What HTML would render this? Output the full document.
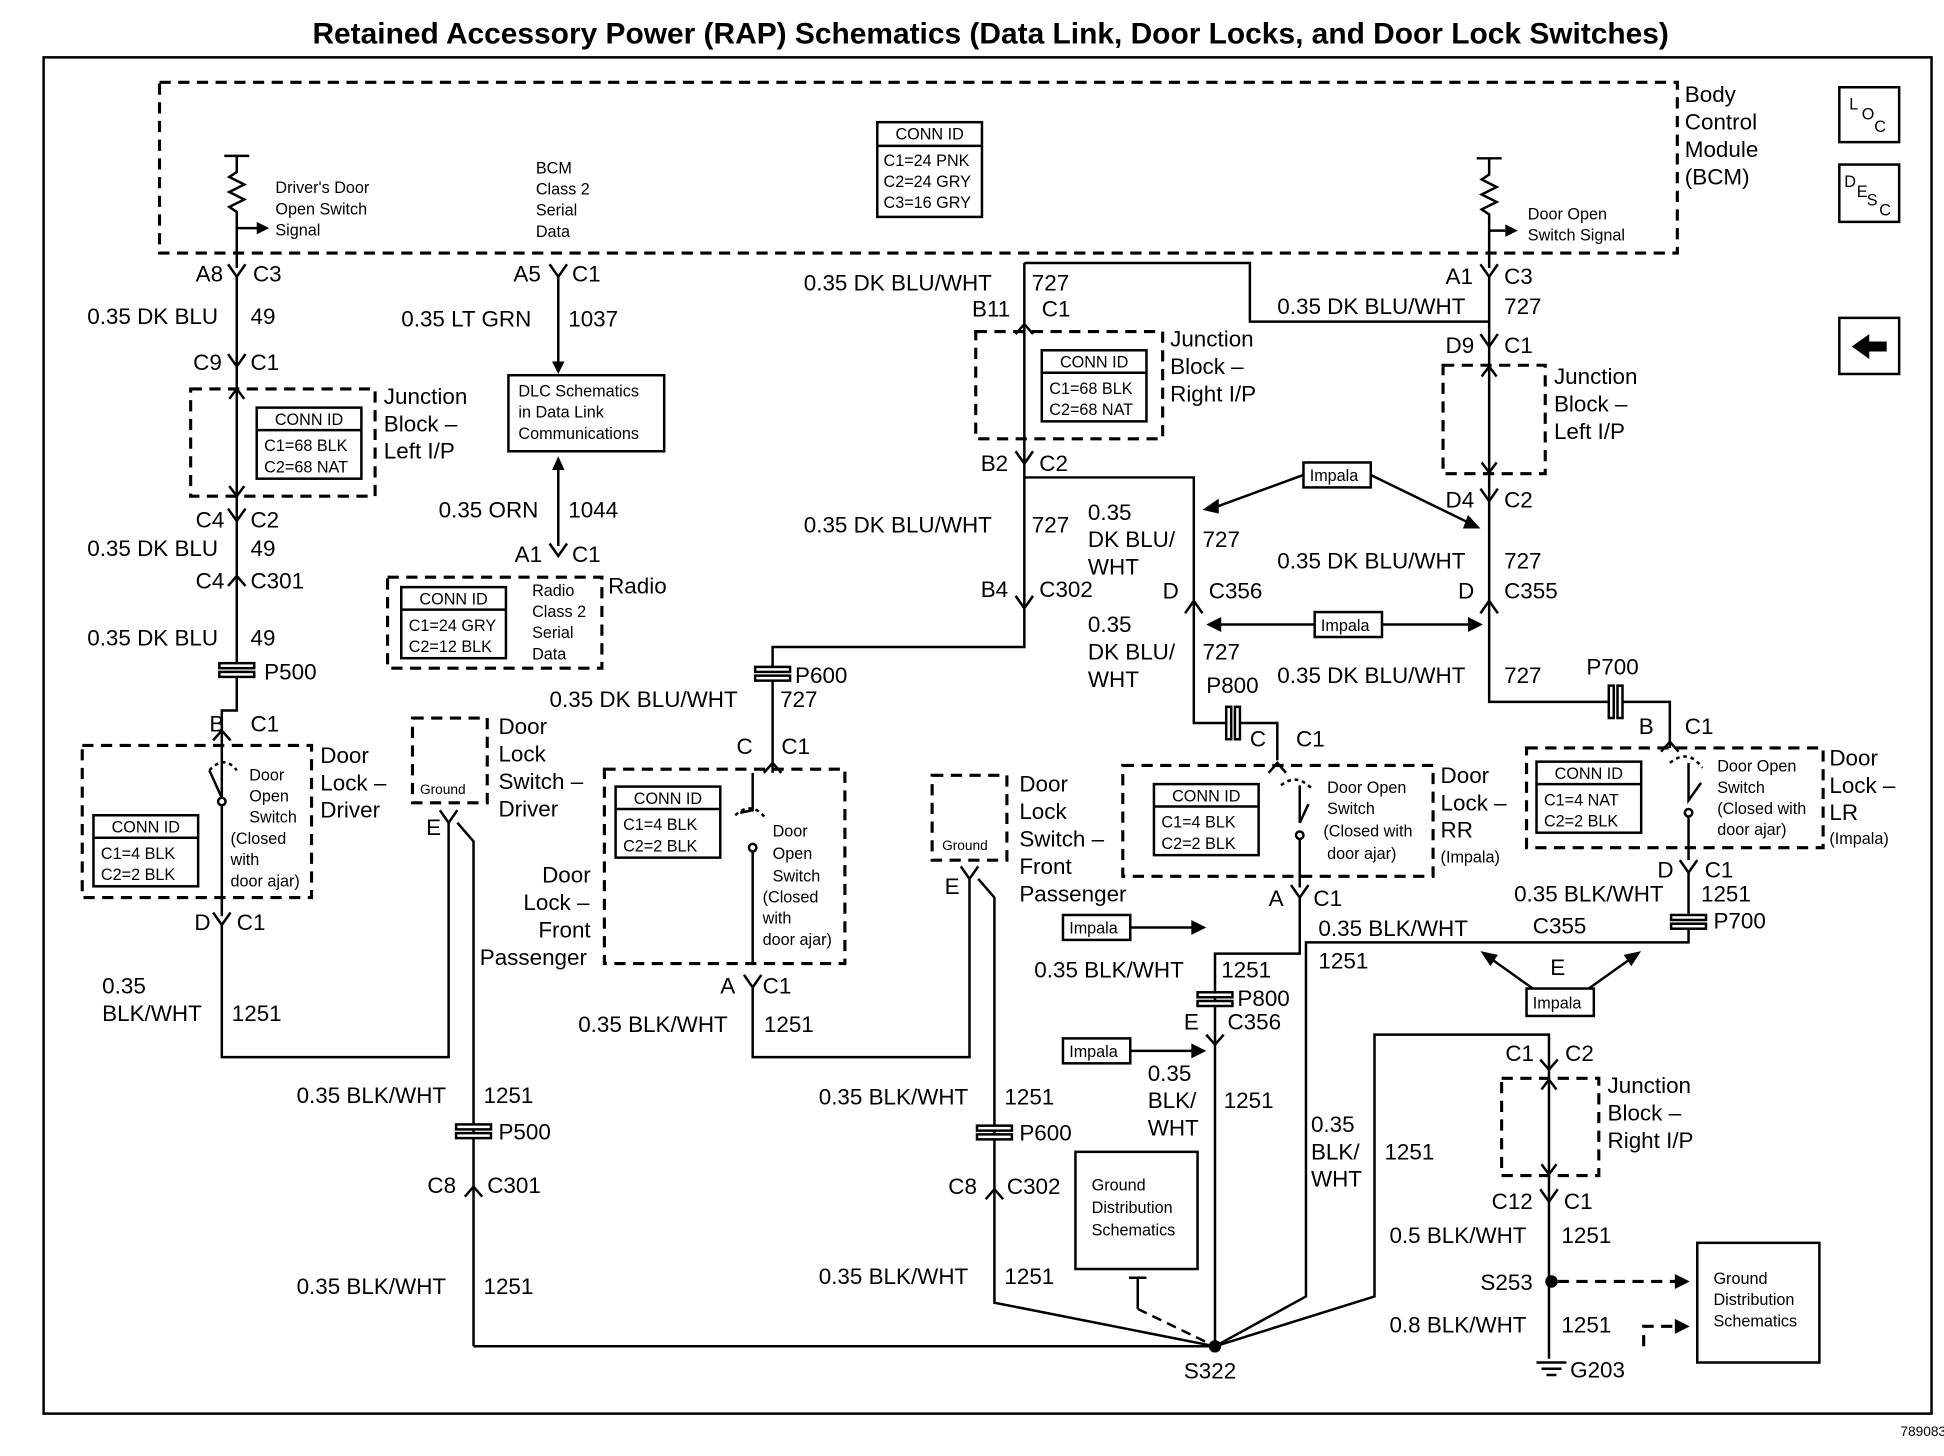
<!DOCTYPE html>
<html><head><meta charset="utf-8"><style>
html,body{margin:0;padding:0;background:#fff}
svg{display:block}
text{font-family:"Liberation Sans",Arial,sans-serif;fill:#000}
.t{font-size:18px}
.s{font-size:13px}
.xs{font-size:11px}
.w{stroke:#000;stroke-width:2;fill:none}
.d{stroke:#000;stroke-width:2.5;fill:none;stroke-dasharray:9,6}
.b{stroke:#000;stroke-width:2;fill:#fff}
</style></head><body>
<svg width="1944" height="1456" viewBox="0 0 1560 1168" preserveAspectRatio="none" xmlns="http://www.w3.org/2000/svg">
<rect width="1560" height="1168" fill="#fff"/>
<text x="795" y="35" font-size="24" font-weight="bold" text-anchor="middle">Retained Accessory Power (RAP) Schematics (Data Link, Door Locks, and Door Lock Switches)</text>
<rect x="35" y="46" width="1515" height="1088" class="w"/>
<text x="1525" y="1152" class="xs">789083</text>

<!-- BCM -->
<rect x="128" y="66" width="1218" height="137" class="d"/>
<text class="t" x="1352" y="82">Body</text><text class="t" x="1352" y="104">Control</text><text class="t" x="1352" y="126">Module</text><text class="t" x="1352" y="148">(BCM)</text>
<rect x="1476" y="70" width="48" height="44" class="w" stroke-width="2.5"/><text x="1484" y="88" class="s">L</text><text x="1494" y="96" class="s">O</text><text x="1504" y="106" class="s">C</text>
<rect x="1476" y="132" width="48" height="46" class="w" stroke-width="2.5"/><text x="1480" y="150" class="s">D</text><text x="1490" y="158" class="s">E</text><text x="1498" y="165" class="s">S</text><text x="1508" y="173" class="s">C</text>
<rect x="1476" y="255" width="48" height="45" class="w" stroke-width="2.5"/><path d="M1486 278 L1500 268 L1500 274 L1514 274 L1514 282 L1500 282 L1500 288 Z" fill="#000"/>
<rect x="704" y="98" width="84" height="76" class="w"/><line x1="704" y1="117" x2="788" y2="117" class="w"/>
<text x="746" y="112" class="s" text-anchor="middle">CONN ID</text><text x="709" y="133" class="s">C1=24 PNK</text><text x="709" y="150" class="s">C2=24 GRY</text><text x="709" y="167" class="s">C3=16 GRY</text>
<text x="221" y="155" class="s">Driver's Door</text><text x="221" y="172" class="s">Open Switch</text><text x="221" y="189" class="s">Signal</text>
<text x="430" y="139" class="s">BCM</text><text x="430" y="156" class="s">Class 2</text><text x="430" y="173" class="s">Serial</text><text x="430" y="190" class="s">Data</text>
<text x="1226" y="176" class="s">Door Open</text><text x="1226" y="193" class="s">Switch Signal</text>

<!-- resistors -->
<path d="M180 125 L200 125 M190 125 L190 138 L184 142 L196 148 L184 154 L196 160 L184 166 L190 170 L190 215" class="w"/>
<path d="M190 183 L210 183" class="w"/><path d="M216 183 L206 178 L206 188 Z"/>
<path d="M1185 127 L1205 127 M1195 127 L1195 140 L1189 144 L1201 150 L1189 156 L1201 162 L1189 168 L1195 172 L1195 215" class="w"/>
<path d="M1195 185 L1212 185" class="w"/><path d="M1218 185 L1208 180 L1208 190 Z"/>

<!-- Column 1 -->
<text class="t" x="157" y="226">A8</text><text class="t" x="203" y="226">C3</text>
<path d="M183 212 L190 222 L197 212" class="w"/>
<path d="M190 222 L190 537" class="w"/>
<text class="t" x="70" y="260">0.35 DK BLU</text><text class="t" x="201" y="260">49</text>
<text class="t" x="155" y="297">C9</text><text class="t" x="201" y="297">C1</text><path d="M183 284 L190 294 L197 284" class="w"/>
<rect x="153" y="312" width="148" height="86" class="d"/>
<rect x="206" y="327" width="84" height="57" class="w"/><line x1="206" y1="345" x2="290" y2="345" class="w"/>
<text x="248" y="341" class="s" text-anchor="middle">CONN ID</text><text x="212" y="362" class="s">C1=68 BLK</text><text x="212" y="379" class="s">C2=68 NAT</text>
<text class="t" x="308" y="324">Junction</text><text class="t" x="308" y="346">Block –</text><text class="t" x="308" y="368">Left I/P</text>
<path d="M184 320 L190 312 L196 320 M184 390 L190 398 L196 390" class="w"/>
<text class="t" x="157" y="423">C4</text><text class="t" x="201" y="423">C2</text><path d="M183 408 L190 418 L197 408" class="w"/>
<text class="t" x="70" y="446">0.35 DK BLU</text><text class="t" x="201" y="446">49</text>
<text class="t" x="157" y="472">C4</text><text class="t" x="201" y="472">C301</text><path d="M183 470 L190 462 L197 470" class="w"/>
<text class="t" x="70" y="518">0.35 DK BLU</text><text class="t" x="201" y="518">49</text>
<rect x="176" y="532" width="28" height="4" class="b"/><rect x="176" y="539" width="28" height="4" class="b"/>
<text class="t" x="212" y="545">P500</text>
<path d="M190 543 L190 570 L178 570 L178 735" class="w"/>
<text class="t" x="168" y="587">B</text><text class="t" x="201" y="587">C1</text><path d="M171 594 L178 586 L185 594" class="w"/>
<rect x="66" y="598" width="184" height="122" class="d"/>
<rect x="75" y="654" width="84" height="57" class="w"/><line x1="75" y1="672" x2="159" y2="672" class="w"/>
<text x="117" y="668" class="s" text-anchor="middle">CONN ID</text><text x="81" y="689" class="s">C1=4 BLK</text><text x="81" y="706" class="s">C2=2 BLK</text>
<text class="s" x="200" y="626">Door</text><text class="s" x="200" y="643">Open</text><text class="s" x="200" y="660">Switch</text><text class="s" x="185" y="677">(Closed</text><text class="s" x="185" y="694">with</text><text class="s" x="185" y="711">door ajar)</text>
<path d="M178 640 L168 618" class="w"/><circle cx="178" cy="643" r="3" class="b"/><path d="M168 618 Q180 605 190 618" class="w" stroke-dasharray="3,3"/>
<text class="t" x="257" y="612">Door</text><text class="t" x="257" y="634">Lock –</text><text class="t" x="257" y="656">Driver</text>
<text class="t" x="156" y="746">D</text><text class="t" x="190" y="746">C1</text><path d="M171 732 L178 742 L185 732" class="w"/>
<path d="M178 742 L178 848 L360 848 L360 660" class="w"/>
<text class="t" x="82" y="797">0.35</text><text class="t" x="82" y="819">BLK/WHT</text><text class="t" x="186" y="819">1251</text>

<!-- Column 2 -->
<text class="t" x="412" y="226">A5</text><text class="t" x="459" y="226">C1</text><path d="M441 212 L448 222 L455 212" class="w"/>
<path d="M448 222 L448 293" class="w"/><path d="M443 290 L448 300 L453 290 Z"/>
<text class="t" x="322" y="262">0.35 LT GRN</text><text class="t" x="456" y="262">1037</text>
<rect x="408" y="301" width="125" height="61" class="w" stroke-width="2.5"/>
<text class="s" x="416" y="318">DLC Schematics</text><text class="s" x="416" y="335">in Data Link</text><text class="s" x="416" y="352">Communications</text>
<path d="M448 375 L448 438" class="w"/><path d="M443 377 L448 366 L453 377 Z"/>
<text class="t" x="352" y="415">0.35 ORN</text><text class="t" x="456" y="415">1044</text>
<text class="t" x="413" y="451">A1</text><text class="t" x="459" y="451">C1</text><path d="M441 436 L448 446 L455 436" class="w"/>
<rect x="311" y="463" width="172" height="73" class="d"/>
<rect x="322" y="471" width="84" height="57" class="w"/><line x1="322" y1="489" x2="406" y2="489" class="w"/>
<text x="364" y="485" class="s" text-anchor="middle">CONN ID</text><text x="328" y="506" class="s">C1=24 GRY</text><text x="328" y="523" class="s">C2=12 BLK</text>
<text class="s" x="427" y="478">Radio</text><text class="s" x="427" y="495">Class 2</text><text class="s" x="427" y="512">Serial</text><text class="s" x="427" y="529">Data</text>
<text class="t" x="488" y="476">Radio</text>

<!-- Door lock switch driver -->
<rect x="331" y="576" width="60" height="68" class="d"/>
<text class="xs" x="337" y="637">Ground</text>
<text class="t" x="400" y="589">Door</text><text class="t" x="400" y="611">Lock</text><text class="t" x="400" y="633">Switch –</text><text class="t" x="400" y="655">Driver</text>
<text class="t" x="342" y="670">E</text><path d="M353 650 L360 660 L367 650" class="w"/>
<path d="M367 660 L380 675 L380 1080" class="w"/>
<text class="t" x="238" y="885">0.35 BLK/WHT</text><text class="t" x="388" y="885">1251</text>
<rect x="366" y="902" width="28" height="4" class="b"/><rect x="366" y="909" width="28" height="4" class="b"/>
<text class="t" x="400" y="914">P500</text>
<text class="t" x="343" y="957">C8</text><text class="t" x="391" y="957">C301</text><path d="M373 960 L380 952 L387 960" class="w"/>
<text class="t" x="238" y="1038">0.35 BLK/WHT</text><text class="t" x="388" y="1038">1251</text>
<path d="M380 1080 L975 1080" class="w"/>

<!-- Column 3 -->
<path d="M822 211 L822 519 L620 519 L620 535" class="w"/>
<text class="t" x="645" y="233">0.35 DK BLU/WHT</text><text class="t" x="828" y="233">727</text>
<path d="M822 211 L1003 211 L1003 258 L1195 258" class="w"/>
<text class="t" x="1025" y="252">0.35 DK BLU/WHT</text><text class="t" x="1207" y="252">727</text>
<text class="t" x="780" y="254">B11</text><text class="t" x="836" y="254">C1</text><path d="M815 268 L822 260 L829 268" class="w"/>
<rect x="783" y="266" width="150" height="86" class="d"/>
<rect x="836" y="281" width="84" height="57" class="w"/><line x1="836" y1="299" x2="920" y2="299" class="w"/>
<text x="878" y="295" class="s" text-anchor="middle">CONN ID</text><text x="842" y="316" class="s">C1=68 BLK</text><text x="842" y="333" class="s">C2=68 NAT</text>
<text class="t" x="939" y="278">Junction</text><text class="t" x="939" y="300">Block –</text><text class="t" x="939" y="322">Right I/P</text>
<text class="t" x="787" y="378">B2</text><text class="t" x="834" y="378">C2</text><path d="M815 362 L822 372 L829 362" class="w"/>
<path d="M822 383 L958 383 L958 580 L985 580 M995 580 L1025 580 L1025 610" class="w"/>
<text class="t" x="645" y="427">0.35 DK BLU/WHT</text><text class="t" x="828" y="427">727</text>
<text class="t" x="787" y="479">B4</text><text class="t" x="834" y="479">C302</text><path d="M815 478 L822 488 L829 478" class="w"/>
<rect x="606" y="535" width="28" height="4" class="b"/><rect x="606" y="542" width="28" height="4" class="b"/>
<text class="t" x="638" y="548">P600</text>
<text class="t" x="441" y="567">0.35 DK BLU/WHT</text><text class="t" x="626" y="567">727</text>
<path d="M620 546 L620 620" class="w"/>
<text class="t" x="591" y="605">C</text><text class="t" x="627" y="605">C1</text><path d="M613 620 L620 612 L627 620" class="w"/>
<rect x="485" y="617" width="193" height="156" class="d"/>
<rect x="494" y="631" width="84" height="57" class="w"/><line x1="494" y1="649" x2="578" y2="649" class="w"/>
<text x="536" y="645" class="s" text-anchor="middle">CONN ID</text><text x="500" y="666" class="s">C1=4 BLK</text><text x="500" y="683" class="s">C2=2 BLK</text>
<text class="s" x="620" y="671">Door</text><text class="s" x="620" y="689">Open</text><text class="s" x="620" y="707">Switch</text><text class="s" x="612" y="724">(Closed</text><text class="s" x="612" y="741">with</text><text class="s" x="612" y="758">door ajar)</text>
<path d="M604 620 L604 650 L594 652 M604 680 L604 772" class="w"/><circle cx="604" cy="680" r="3" class="b"/><path d="M590 654 Q603 642 614 656" class="w" stroke-dasharray="3,3"/>
<text class="t" x="435" y="708">Door</text><text class="t" x="420" y="730">Lock –</text><text class="t" x="432" y="752">Front</text><text class="t" x="385" y="774">Passenger</text>
<text class="t" x="578" y="797">A</text><text class="t" x="612" y="797">C1</text><path d="M597 782 L604 792 L611 782" class="w"/>
<path d="M604 792 L604 848 L778 848 L778 705" class="w"/>
<text class="t" x="464" y="828">0.35 BLK/WHT</text><text class="t" x="613" y="828">1251</text>

<!-- Door lock switch front passenger -->
<rect x="748" y="622" width="60" height="68" class="d"/>
<text class="xs" x="756" y="682">Ground</text>
<text class="t" x="818" y="635">Door</text><text class="t" x="818" y="657">Lock</text><text class="t" x="818" y="679">Switch –</text><text class="t" x="818" y="701">Front</text><text class="t" x="818" y="723">Passenger</text>
<text class="t" x="758" y="717">E</text><path d="M771 695 L778 705 L785 695" class="w"/>
<path d="M785 705 L798 720 L798 1045 L975 1080" class="w"/>
<text class="t" x="657" y="886">0.35 BLK/WHT</text><text class="t" x="806" y="886">1251</text>
<rect x="784" y="903" width="28" height="4" class="b"/><rect x="784" y="910" width="28" height="4" class="b"/>
<text class="t" x="818" y="915">P600</text>
<text class="t" x="761" y="958">C8</text><text class="t" x="808" y="958">C302</text><path d="M791 962 L798 954 L805 962" class="w"/>
<text class="t" x="657" y="1030">0.35 BLK/WHT</text><text class="t" x="806" y="1030">1251</text>
<rect x="863" y="924" width="98" height="94" class="w" stroke-width="2.5"/>
<text class="s" x="876" y="955">Ground</text><text class="s" x="876" y="973">Distribution</text><text class="s" x="876" y="991">Schematics</text>
<path d="M906 1025 L920 1025 M913 1025 L913 1050" class="w"/><path d="M913 1050 L975 1080" class="w" stroke-dasharray="8,5"/>

<!-- middle DK BLU/WHT -->
<text class="t" x="873" y="417">0.35</text><text class="t" x="873" y="439">DK BLU/</text><text class="t" x="873" y="461">WHT</text><text class="t" x="965" y="439">727</text>
<text class="t" x="933" y="480">D</text><text class="t" x="970" y="480">C356</text><path d="M951 492 L958 482 L965 492" class="w"/>
<text class="t" x="873" y="507">0.35</text><text class="t" x="873" y="529">DK BLU/</text><text class="t" x="873" y="551">WHT</text><text class="t" x="965" y="529">727</text>
<text class="t" x="968" y="556">P800</text>
<rect x="984" y="567" width="4" height="26" class="b"/><rect x="991" y="567" width="4" height="26" class="b"/>
<text class="t" x="1003" y="599">C</text><text class="t" x="1040" y="599">C1</text><path d="M1018 620 L1025 612 L1032 620" class="w"/>
<rect x="901" y="614" width="249" height="89" class="d"/>
<rect x="926" y="629" width="84" height="57" class="w"/><line x1="926" y1="647" x2="1010" y2="647" class="w"/>
<text x="968" y="643" class="s" text-anchor="middle">CONN ID</text><text x="932" y="664" class="s">C1=4 BLK</text><text x="932" y="681" class="s">C2=2 BLK</text>
<text class="s" x="1065" y="636">Door Open</text><text class="s" x="1065" y="653">Switch</text><text class="s" x="1062" y="671">(Closed with</text><text class="s" x="1065" y="689">door ajar)</text>
<path d="M1043 630 L1043 660 L1050 645 M1043 672 L1043 712" class="w"/><circle cx="1043" cy="670" r="3" class="b"/><path d="M1028 630 Q1040 620 1052 632" class="w" stroke-dasharray="3,3"/>
<text class="t" x="1156" y="628">Door</text><text class="t" x="1156" y="650">Lock –</text><text class="t" x="1156" y="672">RR</text><text class="s" x="1156" y="692">(Impala)</text>
<text class="t" x="1018" y="727">A</text><text class="t" x="1054" y="727">C1</text><path d="M1036 710 L1043 720 L1050 710" class="w"/>
<path d="M1043 720 L1043 765 L975 765 L975 1080" class="w"/>
<text class="t" x="830" y="784">0.35 BLK/WHT</text><text class="t" x="980" y="784">1251</text>
<rect x="961" y="796" width="28" height="4" class="b"/><rect x="961" y="803" width="28" height="4" class="b"/>
<text class="t" x="993" y="807">P800</text>
<text class="t" x="950" y="826">E</text><text class="t" x="985" y="826">C356</text><path d="M968 830 L975 838 L982 830" class="w"/>
<text class="t" x="921" y="867">0.35</text><text class="t" x="921" y="889">BLK/</text><text class="t" x="921" y="911">WHT</text><text class="t" x="982" y="889">1251</text>
<circle cx="975" cy="1080" r="5" fill="#000"/><text class="t" x="950" y="1106">S322</text>

<!-- Impala boxes -->
<rect x="1046" y="371" width="54" height="20" class="w"/><text class="s" x="1051" y="386">Impala</text>
<path d="M1046 381 L975 407 M1100 381 L1180 420" class="w"/><path d="M965 409 L978 400 L978 412 Z M1188 424 L1174 424 L1178 413 Z"/>
<rect x="1055" y="491" width="54" height="20" class="w"/><text class="s" x="1060" y="506">Impala</text>
<path d="M1055 501 L978 501 M1109 501 L1180 501" class="w"/><path d="M968 501 L980 495 L980 507 Z M1190 501 L1178 495 L1178 507 Z"/>
<rect x="853" y="734" width="54" height="20" class="w"/><text class="s" x="858" y="749">Impala</text>
<path d="M907 744 L960 744" class="w"/><path d="M968 744 L956 738 L956 750 Z"/>
<rect x="853" y="833" width="54" height="20" class="w"/><text class="s" x="858" y="848">Impala</text>
<path d="M907 843 L960 843" class="w"/><path d="M968 843 L956 837 L956 849 Z"/>
<rect x="1225" y="793" width="54" height="22" class="w"/><text class="s" x="1230" y="809">Impala</text>
<path d="M1230 793 L1195 768 M1275 793 L1310 768" class="w"/><path d="M1188 763 L1202 766 L1196 775 Z M1317 763 L1303 766 L1309 775 Z"/>

<!-- right column -->
<text class="t" x="1160" y="228">A1</text><text class="t" x="1207" y="228">C3</text><path d="M1188 212 L1195 222 L1202 212" class="w"/>
<path d="M1195 222 L1195 563 L1292 563 M1302 563 L1340 563 L1340 600" class="w"/>
<text class="t" x="1160" y="283">D9</text><text class="t" x="1207" y="283">C1</text><path d="M1188 268 L1195 278 L1202 268" class="w"/>
<rect x="1158" y="293" width="82" height="87" class="d"/>
<path d="M1189 302 L1195 294 L1201 302 M1189 371 L1195 379 L1201 371" class="w"/>
<text class="t" x="1247" y="308">Junction</text><text class="t" x="1247" y="330">Block –</text><text class="t" x="1247" y="352">Left I/P</text>
<text class="t" x="1160" y="407">D4</text><text class="t" x="1207" y="407">C2</text><path d="M1188 392 L1195 402 L1202 392" class="w"/>
<text class="t" x="1025" y="456">0.35 DK BLU/WHT</text><text class="t" x="1207" y="456">727</text>
<text class="t" x="1170" y="480">D</text><text class="t" x="1207" y="480">C355</text><path d="M1188 492 L1195 482 L1202 492" class="w"/>
<text class="t" x="1025" y="548">0.35 DK BLU/WHT</text><text class="t" x="1207" y="548">727</text>
<text class="t" x="1273" y="541">P700</text>
<rect x="1291" y="550" width="4" height="26" class="b"/><rect x="1298" y="550" width="4" height="26" class="b"/>
<text class="t" x="1315" y="589">B</text><text class="t" x="1352" y="589">C1</text><path d="M1333 603 L1340 595 L1347 603" class="w"/>
<rect x="1225" y="600" width="238" height="80" class="d"/>
<rect x="1233" y="611" width="84" height="57" class="w"/><line x1="1233" y1="629" x2="1317" y2="629" class="w"/>
<text x="1275" y="625" class="s" text-anchor="middle">CONN ID</text><text x="1239" y="646" class="s">C1=4 NAT</text><text x="1239" y="663" class="s">C2=2 BLK</text>
<text class="s" x="1378" y="619">Door Open</text><text class="s" x="1378" y="636">Switch</text><text class="s" x="1378" y="653">(Closed with</text><text class="s" x="1378" y="670">door ajar)</text>
<path d="M1355 612 L1355 642 L1365 628 M1355 655 L1355 690" class="w"/><circle cx="1355" cy="652" r="3" class="b"/><path d="M1340 612 Q1355 600 1366 616" class="w" stroke-dasharray="3,3"/>
<text class="t" x="1468" y="614">Door</text><text class="t" x="1468" y="636">Lock –</text><text class="t" x="1468" y="658">LR</text><text class="s" x="1468" y="677">(Impala)</text>
<text class="t" x="1330" y="704">D</text><text class="t" x="1368" y="704">C1</text><path d="M1348 690 L1355 700 L1362 690" class="w"/>
<path d="M1355 700 L1355 733 M1355 745 L1355 756 L1048 756 L1048 1040 L975 1080" class="w"/>
<text class="t" x="1215" y="723">0.35 BLK/WHT</text><text class="t" x="1365" y="723">1251</text>
<rect x="1341" y="734" width="28" height="4" class="b"/><rect x="1341" y="741" width="28" height="4" class="b"/>
<text class="t" x="1375" y="745">P700</text>
<text class="t" x="1058" y="751">0.35 BLK/WHT</text><text class="t" x="1230" y="749">C355</text>
<text class="t" x="1058" y="777">1251</text><text class="t" x="1244" y="782">E</text>
<text class="t" x="1052" y="908">0.35</text><text class="t" x="1052" y="930">BLK/</text><text class="t" x="1052" y="952">WHT</text><text class="t" x="1111" y="930">1251</text>
<path d="M975 1080 L1103 1040 L1103 830 L1243 830 L1243 1090" class="w"/>
<text class="t" x="1208" y="851">C1</text><text class="t" x="1256" y="851">C2</text><path d="M1236 850 L1243 858 L1250 850" class="w"/>
<rect x="1205" y="865" width="78" height="78" class="d"/>
<path d="M1237 874 L1243 866 L1249 874 M1237 934 L1243 942 L1249 934" class="w"/>
<text class="t" x="1290" y="877">Junction</text><text class="t" x="1290" y="899">Block –</text><text class="t" x="1290" y="921">Right I/P</text>
<text class="t" x="1197" y="970">C12</text><text class="t" x="1255" y="970">C1</text><path d="M1236 954 L1243 964 L1250 954" class="w"/>
<text class="t" x="1115" y="997">0.5 BLK/WHT</text><text class="t" x="1253" y="997">1251</text>
<circle cx="1245" cy="1028" r="5" fill="#000"/><text class="t" x="1188" y="1035">S253</text>
<path d="M1250 1028 L1345 1028" class="d" stroke-width="2"/><path d="M1356 1028 L1344 1022 L1344 1034 Z"/>
<text class="t" x="1115" y="1069">0.8 BLK/WHT</text><text class="t" x="1253" y="1069">1251</text>
<path d="M1319 1080 L1319 1064 L1345 1064" class="d" stroke-width="2"/><path d="M1356 1064 L1344 1058 L1344 1070 Z"/>
<path d="M1233 1093 L1257 1093 M1237 1098 L1253 1098 M1241 1103 L1249 1103" class="w"/>
<text class="t" x="1260" y="1105">G203</text>
<rect x="1362" y="997" width="98" height="96" class="w" stroke-width="2.5"/>
<text class="s" x="1375" y="1030">Ground</text><text class="s" x="1375" y="1047">Distribution</text><text class="s" x="1375" y="1064">Schematics</text>
</svg>
</body></html>
